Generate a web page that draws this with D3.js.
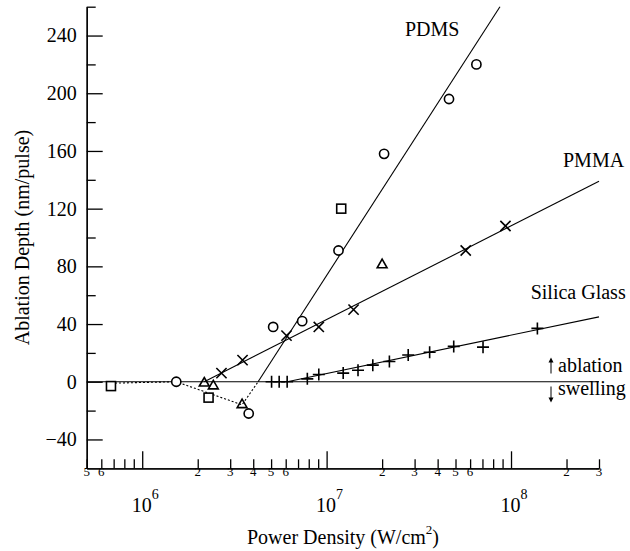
<!DOCTYPE html>
<html lang="en">
<head>
<meta charset="utf-8">
<title>Ablation Depth vs Power Density</title>
<script src="https://d3js.org/d3.v7.min.js"></script>
<style>
  body { margin: 0; background: #fff; }
  svg text { font-family: "Liberation Serif", "DejaVu Serif", serif; fill: #000; }
  .axis path, .axis line { stroke: #000; stroke-width: 1.3px; }
  .minlabs { opacity: 0.99; }
</style>
</head>
<body>
<div id="chart"></div>
<script>
// data (x in W/cm^2, y in nm/pulse)
const circles = [[1.53e6, 0], [3.78e6, -22], [5.13e6, 38], [7.37e6, 42], [1.16e7, 91], [2.05e7, 158], [4.61e7, 196], [6.49e7, 220]];
const squares = [[6.77e5, -3], [2.29e6, -11], [1.2e7, 120]];
const triangles = [[2.17e6, -1], [2.43e6, -3], [3.48e6, -16], [2.0e7, 81]];
const pmmaPts = [[2.69e6, 6], [3.5e6, 15], [6.06e6, 32], [9.07e6, 38], [1.40e7, 50], [5.68e7, 91], [9.33e7, 108]];
const silicaPts = [[5.03e6, 0], [5.53e6, 0], [6.11e6, 0], [7.86e6, 2], [9.07e6, 5], [1.23e7, 6], [1.48e7, 8], [1.78e7, 11.5],
  [2.19e7, 14], [2.77e7, 18.5], [3.62e7, 20.5], [4.89e7, 24.5], [7.05e7, 24], [1.39e8, 37]];

// fitted lines and swelling path
const pdmsFit = [[4.25e6, 0], [8.71e7, 260]];
const pmmaFit = [[2.17e6, 0], [3e8, 139]];
const silicaFit = [[6.11e6, 0], [3e8, 45]];
const swellPath = [[6.77e5, -1], [1.53e6, 0], [3.48e6, -16], [4.25e6, 0]];
const zeroLine = [[5e5, 0], [3e8, 0]];

const yMajor = [-40, 0, 40, 80, 120, 160, 200, 240];
const yMinor = [-20, 20, 60, 100, 140, 180, 220, 260];
const decades = [1e6, 1e7, 1e8];
const minorLabels = [5e5, 6e5, 2e6, 3e6, 4e6, 5e6, 6e6, 2e7, 3e7, 4e7, 5e7, 6e7, 2e8, 3e8];

const W = 630, H = 551;
const svg = d3.select("#chart").append("svg").attr("width", W).attr("height", H);

const x = d3.scaleLog().domain([5e5, 3e8]).range([86.7, 599]);
const y = d3.scaleLinear().domain([-60, 260]).range([468.3, 6.7]);

// minor x ticks: 2..9 in every decade
var xMinor = [];
[1e5, 1e6, 1e7, 1e8].forEach(function (d) {
  for (var m = 2; m <= 9; m++) {
    var v = m * d;
    if (v >= 5e5 && v <= 3e8) xMinor.push(v);
  }
});

// axes
svg.append("g").attr("class", "axis").attr("transform", "translate(0,468.3)")
  .call(d3.axisBottom(x).tickValues(xMinor).tickSize(-9).tickSizeOuter(0).tickFormat(""));
svg.append("g").attr("class", "axis").attr("transform", "translate(0,468.3)")
  .call(d3.axisBottom(x).tickValues(decades).tickSize(-17).tickSizeOuter(0).tickFormat(""));

svg.append("g").attr("class", "axis").attr("transform", "translate(86.7,0)")
  .call(d3.axisLeft(y).tickValues(yMinor).tickSize(-9).tickSizeOuter(0).tickFormat(""));
const yAx = svg.append("g").attr("class", "axis").attr("transform", "translate(86.7,0)")
  .call(d3.axisLeft(y).tickValues(yMajor).tickSize(-16).tickSizeOuter(0).tickPadding(10));
yAx.attr("font-family", null);
yAx.selectAll("text").style("font-size", "20px");

// x tick labels
svg.append("g").attr("class", "minlabs")
  .selectAll("text").data(minorLabels).enter().append("text")
  .attr("x", d => x(d)).attr("y", 475.5)
  .attr("text-anchor", "middle").style("font-size", "13px")
  .text(d => Math.round(d / Math.pow(10, Math.floor(Math.log10(d) + 1e-9))));

const dec = svg.selectAll(".declab").data(decades).enter().append("text")
  .attr("class", "declab")
  .attr("x", d => x(d) + 3).attr("y", 511.7)
  .attr("text-anchor", "middle").style("font-size", "20px");
dec.append("tspan").text("10");
dec.append("tspan").attr("dy", -13).style("font-size", "14px")
  .text(d => Math.round(Math.log10(d)));

// axis titles
const xt = svg.append("text").attr("x", 343).attr("y", 544.3)
  .attr("text-anchor", "middle").style("font-size", "20px");
xt.append("tspan").text("Power Density (W/cm");
xt.append("tspan").attr("dy", -10).style("font-size", "13px").text("2");
xt.append("tspan").attr("dy", 10).text(")");

svg.append("text")
  .attr("transform", "translate(29,237.5) rotate(-90)")
  .attr("text-anchor", "middle").style("font-size", "20px")
  .text("Ablation Depth (nm/pulse)");

// lines
const line = d3.line().x(d => x(d[0])).y(d => y(d[1]));
function drawLine(data, dash) {
  svg.append("path").datum(data)
    .attr("d", line)
    .attr("fill", "none").attr("stroke", "#000").attr("stroke-width", 1.1)
    .attr("stroke-dasharray", dash || null);
}
drawLine(zeroLine);
drawLine(pdmsFit);
drawLine(pmmaFit);
drawLine(silicaFit);
drawLine(swellPath, "2,2");

// markers
const mk = svg.append("g").attr("fill", "none").attr("stroke", "#000").attr("stroke-width", 1.6);

mk.selectAll(".circ").data(circles).enter().append("circle")
  .attr("cx", d => x(d[0])).attr("cy", d => y(d[1])).attr("r", 4.6)
  .attr("fill", "#fff");

mk.selectAll(".sq").data(squares).enter().append("rect")
  .attr("x", d => x(d[0]) - 4.5).attr("y", d => y(d[1]) - 4.5)
  .attr("width", 9).attr("height", 9).attr("fill", "#fff");

const tri = d3.symbol().type(d3.symbolTriangle).size(42);
mk.selectAll(".tri").data(triangles).enter().append("path")
  .attr("d", tri)
  .attr("transform", d => "translate(" + x(d[0]) + "," + y(d[1]) + ")")
  .attr("fill", "none");

const cross = d3.symbol().type(d3.symbolX).size(70);
mk.selectAll(".xm").data(pmmaPts).enter().append("path")
  .attr("d", cross)
  .attr("transform", d => "translate(" + x(d[0]) + "," + y(d[1]) + ")");

mk.selectAll(".pl").data(silicaPts).enter().append("path")
  .attr("d", d => { var cx = x(d[0]), cy = y(d[1]); return "M" + (cx - 6) + "," + cy + "H" + (cx + 6) + "M" + cx + "," + (cy - 6) + "V" + (cy + 6); });

// curve labels
svg.append("text").attr("x", 405).attr("y", 36).style("font-size", "20px").text("PDMS");
svg.append("text").attr("x", 563).attr("y", 167.3).style("font-size", "20px").text("PMMA");
svg.append("text").attr("x", 530.7).attr("y", 299).style("font-size", "20px").text("Silica Glass");

// ablation / swelling note with arrows
svg.append("text").attr("x", 558).attr("y", 372).style("font-size", "20px").text("ablation");
svg.append("text").attr("x", 558).attr("y", 395).style("font-size", "20px").text("swelling");
const arr = svg.append("g").attr("stroke", "#000").attr("stroke-width", 1).attr("fill", "#000");
arr.append("line").attr("x1", 551).attr("x2", 551).attr("y1", 361).attr("y2", 373.5);
arr.append("path").attr("d", "M548.5,362.5L551,357.5L553.5,362.5Z").attr("stroke", "none");
arr.append("line").attr("x1", 551).attr("x2", 551).attr("y1", 386.5).attr("y2", 399);
arr.append("path").attr("d", "M548.5,397.5L551,402.5L553.5,397.5Z").attr("stroke", "none");
</script>
</body>
</html>
